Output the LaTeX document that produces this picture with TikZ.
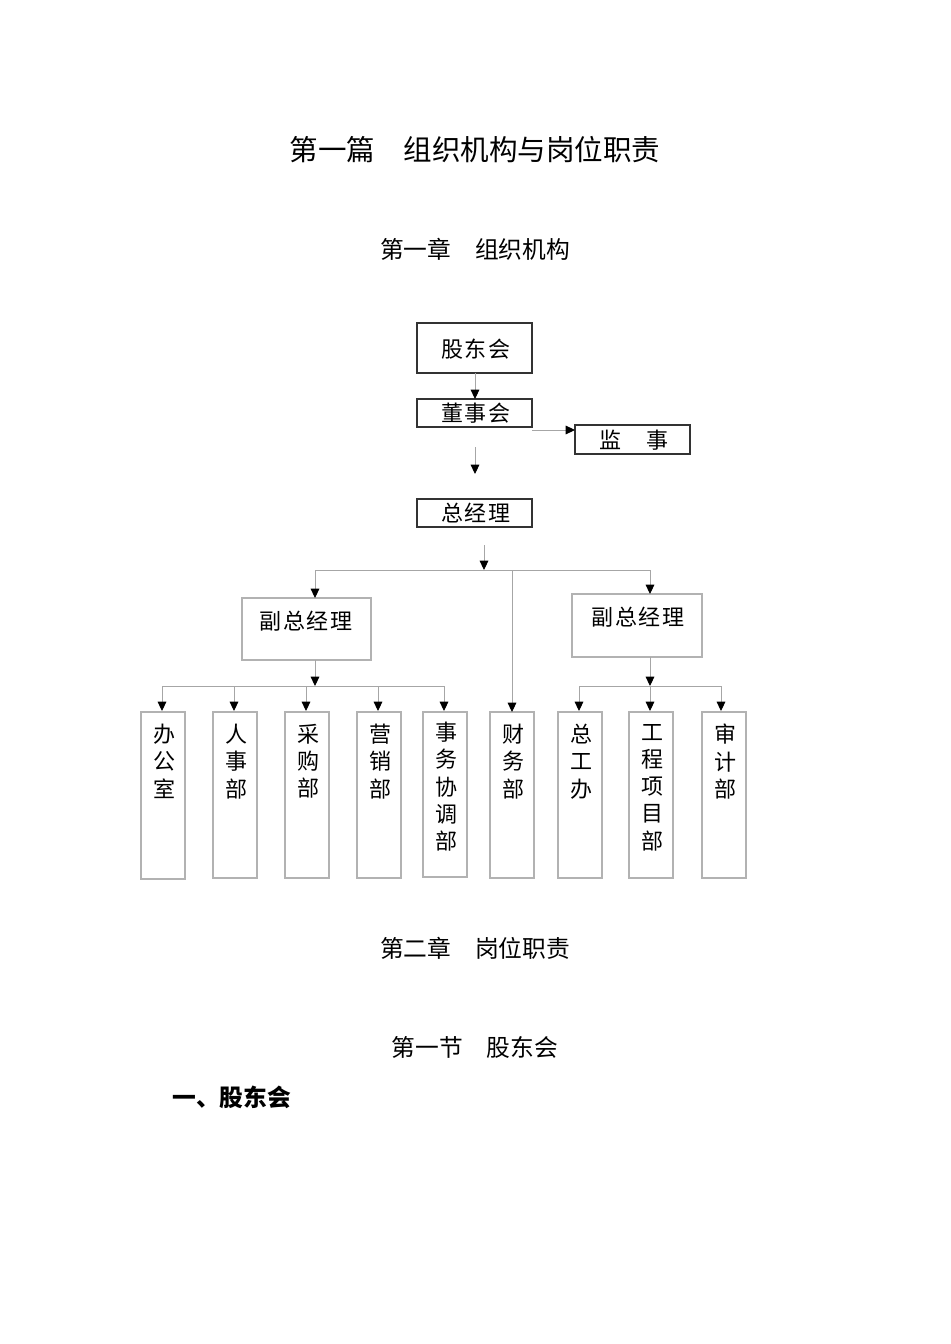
\documentclass[tikz,border=0pt]{standalone}
\usepackage{fontspec}
\setmainfont{Liberation Serif}
\newfontfamily\cjk{Noto Sans CJK SC}
\newfontfamily\cjkspaced{Noto Sans CJK SC}[LetterSpace=8]
\usetikzlibrary{arrows.meta}
\tikzset{
  conn/.style={draw=black!35, line width=0.7pt, -{Triangle[length=7pt,width=6.5pt,black]}},
  plain/.style={draw=black!35, line width=0.7pt},
  darkbox/.style={draw=black!80, line width=0.9pt},
  greybox/.style={draw=black!30, line width=0.8pt},
  boxtext/.style={font=\cjkspaced\fontsize{16.5}{20.4}\selectfont, inner sep=0pt},
  vtext/.style={font=\cjk\fontsize{16.5}{20.4}\selectfont, inner sep=0pt, align=center, anchor=north},
  heading/.style={font=\cjk\fontsize{17.8}{20}\selectfont, inner sep=0pt}
}
\begin{document}
\begin{tikzpicture}[x=0.75pt,y=-0.75pt]
\useasboundingbox (0,0) rectangle (950,1344);
\fill[white] (0,0) rectangle (950,1344);

% headings
\node[font=\cjk\fontsize{21.4}{24}\selectfont, inner sep=0pt] (title) at (475,150) {第一篇　组织机构与岗位职责};
\node[heading] (ch1) at (475,249) {第一章　组织机构};
\node[heading] (ch2) at (475,948) {第二章　岗位职责};
\node[heading] (sec1) at (475,1047) {第一节　股东会};
\node[heading, anchor=west, font=\cjk\bfseries\fontsize{17.8}{20}\selectfont] (item1) at (172,1097) {一、股东会};

% top boxes
\draw[darkbox] (417,323) rectangle (532,373);
\node[boxtext] (gdh) at (476,349) {股东会};
\draw[darkbox] (417,399) rectangle (532,427);
\node[boxtext] (dsh) at (476,413) {董事会};
\draw[darkbox] (575,425) rectangle (690,454);
\node[boxtext] (js) at (634,440) {监　事};
\draw[darkbox] (417,499) rectangle (532,527);
\node[boxtext] (zjl) at (476,513) {总经理};

\coordinate (gdhB) at (475,373);
\coordinate (dshT) at (475,399);
\coordinate (dshR) at (532,430);
\coordinate (jsL) at (575,430);
\coordinate (f1) at (475,447);
\coordinate (f2) at (475,474);
\draw[conn] (gdhB) -- (dshT);
\draw[conn] (dshR) -- (jsL);
\draw[conn] (f1) -- (f2);

% second tier
\coordinate (z1) at (484,545);
\coordinate (z2) at (484,570);
\draw[conn] (z1) -- (z2);
\coordinate (hl) at (315,570);
\coordinate (hr) at (650,570);
\draw[plain] (hl) -- (hr);

\draw[greybox] (242,598) rectangle (371,660);
\node[boxtext] (vp1) at (306,621) {副总经理};
\draw[greybox] (572,594) rectangle (702,657);
\node[boxtext] (vp2) at (638,617) {副总经理};

\coordinate (vp1T) at (315,598);
\coordinate (vp2T) at (650,594);
\draw[conn] (hl) -- (vp1T);
\draw[conn] (hr) -- (vp2T);

% VP1 branches
\coordinate (vp1B) at (315,660);
\coordinate (vp1J) at (315,686);
\draw[conn] (vp1B) -- (vp1J);
\coordinate (l1) at (162,686);
\coordinate (l5) at (444,686);
\draw[plain] (l1) -- (l5);

% VP2 branches
\coordinate (vp2B) at (650,657);
\coordinate (vp2J) at (650,686);
\draw[conn] (vp2B) -- (vp2J);
\coordinate (r1) at (579,686);
\coordinate (r3) at (721,686);
\draw[plain] (r1) -- (r3);

% bottom boxes
\draw[greybox] (141,712) rectangle (185,879);
\node[vtext] (b1) at (164,724) {办\\公\\室};
\draw[greybox] (213,712) rectangle (257,878);
\node[vtext] (b2) at (236,724) {人\\事\\部};
\draw[greybox] (285,712) rectangle (329,878);
\node[vtext] (b3) at (308,724) {采\\购\\部};
\draw[greybox] (357,712) rectangle (401,878);
\node[vtext] (b4) at (380,724) {营\\销\\部};
\draw[greybox] (423,712) rectangle (467,877);
\node[vtext] (b5) at (446,722) {事\\务\\协\\调\\部};
\draw[greybox] (490,712) rectangle (534,878);
\node[vtext] (b6) at (513,724) {财\\务\\部};
\draw[greybox] (558,712) rectangle (602,878);
\node[vtext] (b7) at (581,724) {总\\工\\办};
\draw[greybox] (629,712) rectangle (673,878);
\node[vtext] (b8) at (652,724) {工\\程\\项\\目\\部};
\draw[greybox] (702,712) rectangle (746,878);
\node[vtext] (b9) at (725,724) {审\\计\\部};

% arrows to bottom boxes
\foreach \xx in {162,234,306,378,444}{
  \draw[conn] (\xx,686) -- (\xx,711);
}
\foreach \xx in {579,650,721}{
  \draw[conn] (\xx,686) -- (\xx,711);
}
\coordinate (cw) at (512,570);
\coordinate (cwT) at (512,712);
\draw[conn] (cw) -- (cwT);
\end{tikzpicture}
\end{document}
